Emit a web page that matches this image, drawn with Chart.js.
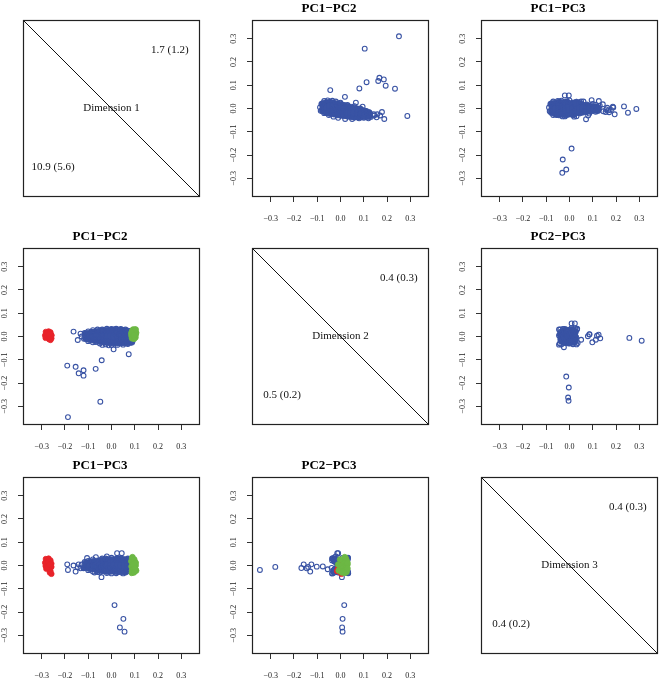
<!DOCTYPE html>
<html>
<head>
<meta charset="utf-8">
<title>PCA pairs plot</title>
<script src="https://cdn.jsdelivr.net/npm/chart.js@4.4.0/dist/chart.umd.min.js"></script>
<style>
  body { margin: 0; background: #fff; overflow: hidden; }
  #grid { position: relative; width: 661px; height: 680px; }
  #grid canvas { position: absolute; }
</style>
</head>
<body>
<div id="grid"></div>
<script>
// ---- data ----
const pcNames = ["PC1", "PC2", "PC3"];
const dimLabels = ["Dimension 1", "Dimension 2", "Dimension 3"];
const upperStats = ["1.7 (1.2)", "0.4 (0.3)", "0.4 (0.3)"];
const lowerStats = ["10.9 (5.6)", "0.5 (0.2)", "0.4 (0.2)"];
const tickValues = [-0.3, -0.2, -0.1, 0, 0.1, 0.2, 0.3];
const axisLimit = 0.38;

// upper panels: samples as [PC1, PC2, PC3]; dense centre of the cloud
const upperCore = [
    [-0.075, 0.018, -0.015], [-0.075, -0.008, 0.018], [-0.072, 0.004, 0.002],
    [-0.060, 0.022, 0.020], [-0.060, -0.015, -0.020], [-0.058, 0.004, 0.000],
    [-0.045, 0.024, -0.005], [-0.045, -0.018, 0.012], [-0.045, 0.003, -0.024], [-0.044, 0.012, 0.024],
    [-0.030, 0.020, -0.022], [-0.030, -0.020, 0.022], [-0.030, 0.000, 0.002], [-0.028, 0.010, 0.010],
    [-0.015, 0.017, 0.015], [-0.015, -0.024, -0.014], [-0.015, -0.004, -0.025], [-0.013, 0.005, 0.025],
    [0.000, 0.014, -0.020], [0.000, -0.026, 0.018], [0.000, -0.006, 0.002], [0.002, 0.004, -0.006],
    [0.015, 0.010, 0.020], [0.015, -0.028, -0.020], [0.015, -0.010, 0.000], [0.016, 0.000, -0.024],
    [0.030, 0.006, -0.015], [0.030, -0.030, 0.015], [0.030, -0.012, 0.024], [0.032, -0.020, -0.004],
    [0.045, 0.002, 0.018], [0.045, -0.032, -0.016], [0.045, -0.015, 0.000],
    [0.060, -0.002, -0.012], [0.060, -0.034, 0.010], [0.060, -0.018, 0.000],
    [0.075, -0.006, 0.012], [0.075, -0.034, -0.010], [0.075, -0.020, 0.000],
    [0.090, -0.010, -0.008], [0.090, -0.032, 0.006], [0.090, -0.022, 0.000],
    [0.105, -0.015, 0.004], [0.105, -0.032, -0.004],
    [0.120, -0.020, 0.000], [0.120, -0.032, -0.006]
];
// upper panels: single samples (open circles)
const upperSingles = [
    [0.251, 0.310, -0.018], [0.104, 0.257, -0.006], [0.287, -0.032, -0.002], [0.234, 0.085, 0.009],
    [0.167, 0.132, -0.008], [0.162, 0.118, 0.003], [0.186, 0.125, 0.008], [0.194, 0.098, -0.025],
    [0.112, 0.113, -0.014], [0.081, 0.086, 0.010], [-0.044, 0.079, 0.001], [0.188, -0.045, 0.004],
    [0.178, -0.015, -0.006], [0.019, 0.050, -0.014], [0.066, 0.025, -0.010], [0.095, 0.008, 0.036],
    [0.126, -0.020, 0.032], [0.143, -0.025, 0.018], [0.009, -0.014, -0.172], [-0.029, -0.003, -0.219],
    [-0.014, -0.006, -0.262], [-0.031, -0.004, -0.276], [-0.020, 0.009, 0.056], [-0.003, 0.023, 0.056],
    [0.071, -0.024, -0.046], [0.130, -0.036, 0.012], [0.145, -0.030, -0.012], [0.155, -0.038, -0.015],
    [0.120, -0.042, 0.008], [0.158, -0.025, -0.004], [0.170, -0.030, -0.016],
    [-0.088, 0.005, 0.004], [-0.085, -0.010, -0.012], [-0.082, 0.020, 0.020], [-0.070, 0.032, 0.030],
    [-0.055, 0.035, -0.028], [-0.035, 0.033, 0.034], [-0.020, 0.030, -0.034], [0.000, 0.025, 0.035],
    [-0.070, -0.020, -0.028], [-0.050, -0.028, 0.032], [-0.030, -0.035, -0.034], [-0.010, -0.040, 0.030],
    [0.020, -0.045, -0.035], [0.050, -0.045, 0.030], [0.080, -0.042, -0.030], [0.100, -0.040, 0.020],
    [0.030, 0.015, -0.033], [0.060, 0.010, 0.030], [0.085, 0.000, -0.022], [0.110, -0.010, 0.016]
];

// lower panels: blue samples, dense centre
const lowerCore = [
    [-0.110, 0.008, -0.005], [-0.108, -0.006, 0.008],
    [-0.095, 0.012, 0.010], [-0.095, -0.010, -0.010], [-0.093, 0.000, 0.000],
    [-0.080, 0.015, -0.012], [-0.080, -0.012, 0.014], [-0.078, 0.002, 0.000],
    [-0.065, 0.018, 0.015], [-0.065, -0.015, -0.015], [-0.063, 0.000, 0.002],
    [-0.050, 0.020, -0.018], [-0.050, -0.018, 0.018], [-0.048, 0.002, 0.000],
    [-0.035, 0.022, 0.020], [-0.035, -0.020, -0.020], [-0.033, 0.000, 0.000],
    [-0.020, 0.023, -0.022], [-0.020, -0.022, 0.022], [-0.018, 0.000, 0.000],
    [-0.005, 0.024, 0.022], [-0.005, -0.024, -0.022], [-0.003, 0.002, -0.002],
    [0.010, 0.025, -0.022], [0.010, -0.024, 0.022], [0.012, 0.000, 0.000],
    [0.025, 0.025, 0.024], [0.025, -0.025, -0.024], [0.027, 0.000, 0.000],
    [0.040, 0.024, -0.024], [0.040, -0.025, 0.024], [0.042, 0.000, 0.000],
    [0.055, 0.022, 0.022], [0.055, -0.024, -0.024], [0.057, 0.000, 0.000],
    [0.070, 0.020, -0.020], [0.070, -0.024, 0.022], [0.072, 0.000, 0.000],
    [0.085, 0.018, 0.018], [0.085, -0.022, -0.020], [0.087, 0.000, 0.000]
];
// lower panels: blue single samples (open circles)
const lowerSingles = [
    [-0.187, -0.346, -0.019], [-0.048, -0.280, -0.006], [-0.120, -0.168, -0.011], [-0.190, -0.125, 0.005],
    [-0.154, -0.130, -0.026], [-0.141, -0.158, 0.005], [-0.120, -0.145, -0.012], [-0.068, -0.139, -0.006],
    [-0.042, -0.102, -0.005], [0.074, -0.076, -0.004], [0.009, -0.055, -0.016],
    [0.013, 0.016, -0.170], [0.051, 0.009, -0.229], [0.036, 0.007, -0.266], [0.056, 0.009, -0.284],
    [-0.163, 0.021, 0.000], [-0.145, -0.015, -0.008], [-0.133, 0.012, -0.012], [-0.105, 0.008, 0.032],
    [-0.085, 0.019, -0.005], [-0.067, -0.024, 0.036], [-0.039, -0.036, 0.022], [-0.012, -0.038, -0.010],
    [-0.043, 0.006, -0.050], [-0.073, -0.010, -0.030], [0.024, -0.014, 0.053], [0.044, -0.010, 0.053],
    [-0.020, -0.020, 0.039], [-0.128, 0.000, 0.004], [-0.118, -0.010, -0.008],
    [-0.115, 0.015, 0.015], [-0.100, 0.022, -0.020], [-0.080, 0.027, 0.026], [-0.060, 0.030, -0.028],
    [-0.040, 0.030, 0.030], [-0.020, 0.033, -0.032], [0.000, 0.032, 0.033], [0.020, 0.033, -0.033],
    [0.040, 0.032, 0.032], [0.060, 0.030, -0.030], [-0.100, -0.020, 0.020], [-0.080, -0.025, -0.026],
    [-0.050, -0.030, -0.030], [-0.025, -0.034, 0.030], [0.000, -0.036, -0.034], [0.025, -0.036, 0.030],
    [0.050, -0.035, -0.034], [0.070, -0.032, 0.030]
];
// lower panels: red group
const redGroup = [
    [-0.282, 0.020, 0.028], [-0.270, 0.022, 0.030], [-0.262, 0.018, 0.022], [-0.285, 0.005, 0.012],
    [-0.272, 0.008, 0.015], [-0.258, 0.006, 0.008], [-0.283, -0.006, -0.002], [-0.270, -0.004, 0.000],
    [-0.258, -0.008, -0.006], [-0.280, 0.012, -0.014], [-0.268, -0.012, -0.016], [-0.262, -0.015, -0.024],
    [-0.265, 0.000, -0.030], [-0.258, 0.004, -0.036], [-0.276, 0.015, -0.008], [-0.266, 0.012, 0.004]
];
// lower panels: green group
const greenGroup = [
    [0.088, 0.022, 0.032], [0.095, 0.026, 0.022], [0.102, 0.020, 0.012], [0.085, 0.012, 0.018],
    [0.094, 0.014, 0.008], [0.104, 0.008, 0.000], [0.086, 0.002, -0.004], [0.095, 0.004, -0.010],
    [0.103, -0.004, -0.018], [0.088, -0.008, -0.022], [0.097, -0.010, 0.004], [0.092, 0.028, -0.018],
    [0.100, 0.022, -0.012], [0.090, 0.018, 0.036], [0.098, -0.002, 0.026], [0.106, 0.016, -0.022],
    [0.093, 0.030, 0.004], [0.099, 0.010, -0.026], [0.091, 0.026, -0.028], [0.101, 0.030, -0.012],
    [0.087, 0.018, -0.032], [0.096, 0.006, -0.030], [0.104, 0.030, 0.012]
];

// ---- layout and style ----
const SERIF = "'Liberation Serif', 'Times New Roman', serif";
const BLUE = "#3953a4", RED = "#e8232a", GREEN = "#6cb844";
const boxLeft = [23, 252, 481];
const boxTop = [20, 248, 477];
const BOX = 177, PAD_L = 23, PAD_T = 20, PAD_B = 28;

const fmtTick = v => (v < 0 ? "\u2212" : "") + Math.abs(v).toFixed(1);
const project = (rows, a, b) => rows.map(p => ({ x: p[a], y: p[b] }));

// box round the plotting region
const framePlugin = {
    id: "frame",
    afterDraw(chart) {
        const { ctx, chartArea: a } = chart;
        ctx.save();
        ctx.strokeStyle = "#222";
        ctx.lineWidth = 1.2;
        ctx.strokeRect(Math.round(a.left) + 0.5, Math.round(a.top) + 0.5, Math.round(a.width) - 1, Math.round(a.height) - 1);
        ctx.restore();
    }
};

// texts of the diagonal panels
const dimTextPlugin = {
    id: "dimText",
    afterDraw(chart, args, opts) {
        const { ctx, chartArea: a } = chart;
        ctx.save();
        ctx.font = "11px " + SERIF;
        ctx.fillStyle = "#111";
        ctx.textAlign = "center";
        ctx.textBaseline = "middle";
        ctx.fillText(opts.name, a.left + a.width / 2, a.top + a.height / 2);
        ctx.fillText(opts.upper, a.left + a.width * 0.83, a.top + a.height * 0.17);
        ctx.fillText(opts.lower, a.left + a.width * 0.17, a.top + a.height * 0.83);
        ctx.restore();
    }
};

function makeCanvas(r, c) {
    const cv = document.createElement("canvas");
    cv.width = BOX + 2 * PAD_L;
    cv.height = PAD_T + BOX + PAD_B;
    cv.style.left = (boxLeft[c] - PAD_L) + "px";
    cv.style.top = (boxTop[r] - PAD_T) + "px";
    document.getElementById("grid").appendChild(cv);
    return cv;
}

function axis(isX) {
    return {
        type: "linear",
        min: -axisLimit,
        max: axisLimit,
        afterBuildTicks: s => { s.ticks = tickValues.map(v => ({ value: v })); },
        afterFit: s => { if (isX) s.height = PAD_B; else s.width = PAD_L; },
        grid: { drawOnChartArea: false, drawTicks: true, tickLength: 5, color: "#333", lineWidth: 1 },
        border: { display: false },
        ticks: {
            autoSkip: false,
            font: { family: SERIF, size: 8 },
            color: "#222",
            padding: isX ? 12 : 6,
            minRotation: isX ? 0 : 90,
            maxRotation: isX ? 0 : 90,
            crossAlign: isX ? "near" : "center",
            callback: fmtTick
        }
    };
}

function ringSet(data, color, order) {
    return { data: data, order: order, pointRadius: 2.4, pointBorderWidth: 1.1,
             pointBorderColor: color, pointBackgroundColor: "rgba(0,0,0,0)", pointHoverRadius: 2.4 };
}
function dotSet(data, color, order, radius) {
    return { data: data, order: order, pointRadius: radius, pointBorderWidth: 0.8,
             pointBorderColor: color, pointBackgroundColor: color, pointHoverRadius: radius };
}

function scatterPanel(cv, title, datasets) {
    return new Chart(cv.getContext("2d"), {
        type: "scatter",
        data: { datasets: datasets },
        options: {
            responsive: false,
            animation: false,
            events: [],
            layout: { padding: { left: 0, right: PAD_L, top: 0, bottom: 0 } },
            plugins: {
                legend: { display: false },
                tooltip: { enabled: false },
                title: {
                    display: true, text: title, color: "#000",
                    font: { family: SERIF, size: 13, weight: "bold", lineHeight: 1.2 },
                    padding: { top: 1, bottom: 3.4 }
                }
            },
            scales: { x: axis(true), y: axis(false) }
        },
        plugins: [framePlugin]
    });
}

function diagonalPanel(cv, i) {
    return new Chart(cv.getContext("2d"), {
        type: "scatter",
        data: {
            datasets: [{
                data: [{ x: -axisLimit, y: axisLimit }, { x: axisLimit, y: -axisLimit }],
                showLine: true, borderColor: "#111", borderWidth: 1, pointRadius: 0
            }]
        },
        options: {
            responsive: false,
            animation: false,
            events: [],
            layout: { padding: { left: PAD_L, right: PAD_L, top: PAD_T, bottom: PAD_B } },
            plugins: {
                legend: { display: false },
                tooltip: { enabled: false },
                dimText: { name: dimLabels[i], upper: upperStats[i], lower: lowerStats[i] }
            },
            scales: {
                x: { type: "linear", display: false, min: -axisLimit, max: axisLimit },
                y: { type: "linear", display: false, min: -axisLimit, max: axisLimit }
            }
        },
        plugins: [framePlugin, dimTextPlugin]
    });
}

for (let r = 0; r < 3; r++) {
    for (let c = 0; c < 3; c++) {
        const cv = makeCanvas(r, c);
        if (r === c) {
            diagonalPanel(cv, r);
        } else if (r < c) {
            // upper triangle: x = PC(r), y = PC(c)
            scatterPanel(cv, pcNames[r] + "\u2212" + pcNames[c], [
                ringSet(project(upperSingles, r, c), BLUE, 0),
                dotSet(project(upperCore, r, c), BLUE, 1, 3.8)
            ]);
        } else {
            // lower triangle: x = PC(c), y = PC(r)
            scatterPanel(cv, pcNames[c] + "\u2212" + pcNames[r], [
                dotSet(project(greenGroup, c, r), GREEN, 0, 2.8),
                dotSet(project(redGroup, c, r), RED, 1, 2.7),
                ringSet(project(lowerSingles, c, r), BLUE, 2),
                dotSet(project(lowerCore, c, r), BLUE, 3, 3.8)
            ]);
        }
    }
}
</script>
</body>
</html>
